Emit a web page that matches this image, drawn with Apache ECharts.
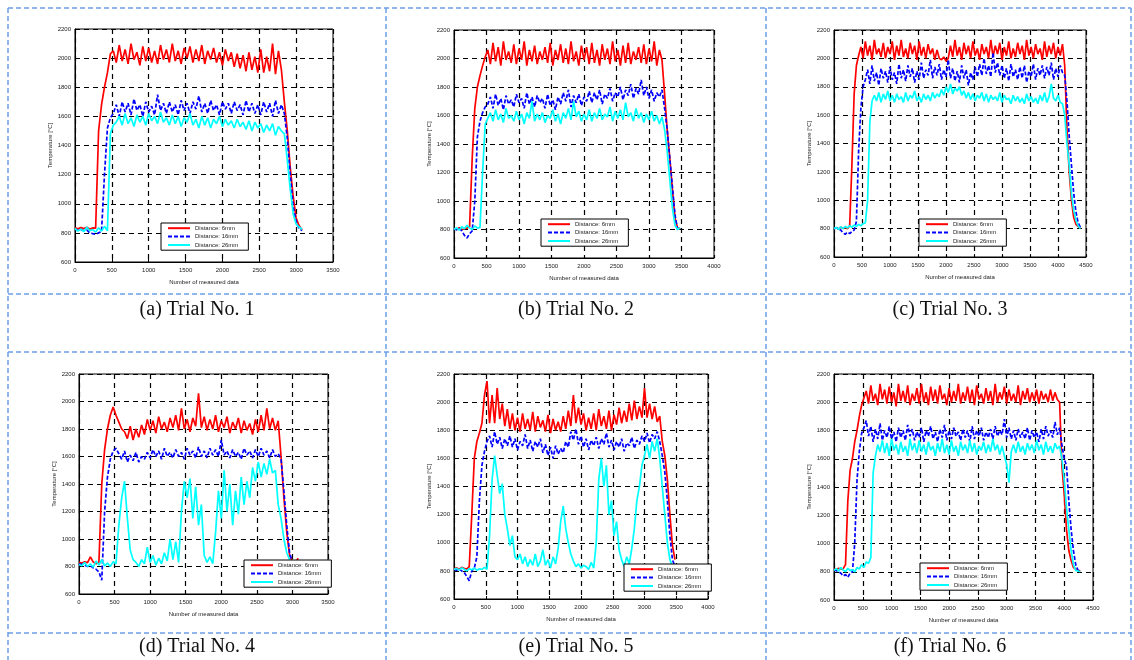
<!DOCTYPE html>
<html>
<head>
<meta charset="utf-8">
<script src="https://cdn.jsdelivr.net/npm/echarts@6/dist/echarts.min.js"></script>
<style>
html,body{margin:0;padding:0;background:#fff;}
#main{width:1134px;height:660px;}
</style>
</head>
<body>
<div id="main"></div>
<script>
// ---- data (sample spacing in "Number of measured data") ----
const STEP = 40;
const SERIES_NAMES = ['Distance: 6mm', 'Distance: 16mm', 'Distance: 26mm'];
const CAPTIONS = ['(a) Trial No. 1', '(b) Trial No. 2', '(c) Trial No. 3', '(d) Trial No. 4', '(e) Trial No. 5', '(f) Trial No. 6'];
const X_MAX = [3500, 4000, 4500, 3500, 4000, 4500];
const X_INTERVAL = 500;
const Y_MIN = 600, Y_MAX = 2200, Y_INTERVAL = 200;
const X_NAME = 'Number of measured data';
const Y_NAME = 'Temperature [°C]';

// Trial 1
const t1_6mm = [835,828,836,830,838,826,834,832,
1500,1680,1800,1900,2030,
2050,1970,2090,1980,2060,1960,2100,1990,2040,1950,
2080,1980,2070,1970,2050,1960,2090,1990,2060,1970,
2100,1980,2050,1960,2070,2000,2080,1970,2060,1980,
2090,1960,2050,1990,2070,1970,2040,1950,2060,1980,
2040,1940,2030,1930,2020,1910,2040,1920,2010,1900,
2060,1900,2010,1910,2100,1890,2050,1920,
1700,1500,1250,1050,900,850,820];
const t1_16mm = [825,818,822,815,820,800,795,790,800,810,
1200,1520,1590,
1620,1680,1600,1700,1630,1690,1610,1720,1640,1680,
1600,1700,1630,1670,1610,1750,1640,1690,1620,1700,
1630,1680,1610,1710,1640,1690,1620,1700,1650,1740,
1630,1690,1620,1710,1640,1680,1610,1700,1650,1690,
1620,1700,1640,1680,1610,1710,1630,1690,1620,1680,
1610,1700,1630,1690,1600,1710,1620,1680,
1620,1450,1200,980,880,830,815];
const t1_26mm = [830,812,826,808,840,815,822,805,835,812,845,815,
1480,1540,
1560,1600,1540,1620,1550,1590,1530,1610,1560,1600,
1540,1620,1570,1600,1550,1630,1560,1590,1540,1610,
1550,1600,1530,1590,1560,1620,1540,1580,1520,1600,
1540,1590,1520,1580,1550,1600,1530,1580,1540,1570,
1520,1580,1530,1560,1510,1570,1500,1560,1520,1550,
1490,1540,1500,1550,1470,1530,1500,
1480,1300,1100,930,860,840,825];

// Trial 2
const t2_6mm = [808,800,812,798,805,810,
820,1300,1650,1800,1880,1950,2010,
2060,1960,2110,1980,2080,1950,2120,1990,2050,1970,
2100,1960,2070,1990,2120,1950,2060,1980,2090,1960,
2050,1990,2080,1970,2110,1950,2060,1990,2100,1970,
2070,1960,2120,1980,2050,1950,2090,1990,2080,1960,
2110,1970,2060,1950,2100,1990,2070,1960,2120,1980,
2060,1950,2090,1970,2110,1960,2050,1990,2080,1970,
2100,1960,2070,1980,2120,1950,2060,1990,
1750,1500,1300,1080,880,810,805];
const t2_16mm = [805,798,810,790,760,740,770,
790,1000,1450,1560,1620,1660,
1680,1730,1650,1750,1670,1720,1640,1740,1680,1710,
1660,1750,1690,1720,1650,1760,1680,1730,1660,1740,
1690,1720,1650,1750,1670,1710,1640,1730,1680,1760,
1700,1780,1660,1740,1690,1750,1670,1730,1700,1770,
1690,1760,1710,1780,1680,1750,1720,1790,1700,1760,
1730,1800,1710,1780,1740,1820,1720,1790,1750,1850,
1740,1800,1720,1780,1700,1760,1730,1780,
1650,1500,1300,1100,900,800,810];
const t2_26mm = [800,812,795,820,805,830,810,800,825,810,815,
1200,1540,
1580,1620,1560,1640,1570,1610,1550,1650,1580,1600,
1560,1630,1570,1610,1540,1620,1580,1700,1560,1610,
1570,1620,1550,1600,1580,1640,1560,1610,1540,1620,
1580,1650,1570,1700,1590,1630,1560,1610,1570,1640,
1560,1620,1580,1650,1570,1610,1590,1660,1560,1630,
1580,1640,1570,1690,1590,1620,1560,1650,1580,1620,
1550,1610,1570,1630,1560,1600,1540,1590,
1500,1350,1150,950,830,800,810];

// Trial 3
const t3_6mm = [800,806,798,810,802,808,800,
820,1250,1750,1950,2020,
2080,2000,2120,2020,2090,1990,2130,2030,2070,2010,
2110,2000,2080,2030,2120,1990,2090,2020,2130,2010,
2070,2000,2110,2030,2090,1990,2120,2020,2080,2000,
2100,2030,2070,1990,2060,2000,1990,2010,1980,2000,
2090,2010,2130,2020,2080,1990,2110,2030,2090,2000,
2120,2020,2070,1990,2100,2030,2080,2000,2130,2010,
2090,2030,2110,1990,2080,2020,2120,2000,2070,2010,
2110,2030,2090,1990,2130,2020,2080,2000,2100,2030,
2070,1990,2120,2010,2090,2030,2110,2000,2080,2020,
2100,
1950,1500,1200,1000,880,830,815,805];
const t3_16mm = [800,806,798,790,770,760,775,765,780,790,850,
1350,1650,1800,
1850,1920,1820,1950,1840,1900,1810,1930,1860,1910,
1830,1940,1850,1900,1820,1960,1860,1920,1840,1950,
1870,1930,1830,1910,1850,1970,1860,1920,1880,1990,
1860,1940,1880,1960,1850,1920,1870,1990,1860,1930,
1840,1910,1830,1950,1860,1920,1810,1900,1850,1940,
1870,1960,1880,2000,1890,1950,1870,2040,1900,1970,
1880,1950,1860,1930,1840,1960,1870,1920,1850,1940,
1860,1950,1830,1910,1870,1960,1850,1930,1880,1950,
1860,1940,1880,1970,1850,1930,1870,1950,1900,
1880,1700,1450,1250,1050,920,840,810];
const t3_26mm = [800,808,795,812,800,815,805,820,810,825,815,830,820,835,840,
1000,1550,1700,
1740,1700,1760,1690,1750,1710,1770,1700,1740,1690,
1750,1710,1730,1690,1760,1700,1740,1720,1770,1700,
1730,1690,1750,1710,1740,1700,1760,1720,1750,1730,
1780,1740,1800,1760,1820,1750,1790,1770,1800,1740,
1770,1720,1760,1710,1750,1700,1740,1720,1760,1700,
1750,1690,1740,1710,1730,1700,1760,1690,1740,1710,
1720,1680,1740,1700,1730,1690,1720,1680,1750,1700,
1730,1690,1720,1680,1740,1700,1760,1690,1730,1820,
1720,1700,1740,1690,
1680,1600,1400,1250,1050,930,860,820,800];

// Trial 4
const t4_6mm = [830,825,835,828,870,832,820,830,
1400,1650,1800,1900,1960,1900,1850,1800,
1780,1730,1820,1720,1800,1740,1830,1760,1870,1790,
1860,1770,1890,1800,1850,1780,1880,1810,1900,1790,
1950,1800,1870,1780,1880,1820,2060,1810,1890,1790,
1870,1800,1900,1780,1860,1810,1890,1770,1850,1800,
1880,1770,1860,1790,1840,1760,1870,1780,1900,1790,
1950,1800,1880,1790,1860,
1600,1300,1050,880,840,820,860];
const t4_16mm = [820,815,810,800,805,790,780,760,700,
1200,1450,1580,1640,1660,
1620,1580,1640,1560,1610,1570,1630,1560,1600,1580,
1630,1590,1650,1600,1640,1580,1660,1600,1630,1590,
1650,1600,1630,1580,1660,1610,1640,1590,1670,1600,
1640,1590,1660,1610,1650,1600,1720,1610,1640,1590,
1650,1600,1630,1580,1660,1610,1640,1590,1650,1600,
1660,1610,1640,1590,1650,1600,1620,
1580,1350,1100,900,830,815,810];
const t4_26mm = [815,805,830,800,820,795,840,810,850,805,
825,800,835,820,1100,1300,1420,1150,920,850,
830,800,850,820,940,830,880,810,860,820,
900,840,1000,850,980,830,1200,1420,1300,1440,
1150,1380,1100,1250,880,830,870,820,1050,1350,
1150,1500,1200,1400,1100,1350,1180,1450,1250,1420,
1300,1520,1420,1560,1450,1550,1470,1580,1480,1500,
1250,1150,1000,900,850,830,820,815];

// Trial 5
const t5_6mm = [815,822,810,825,818,812,830,
1200,1600,1720,1780,1850,2050,2150,1850,
2050,1850,2100,1880,1990,1830,1950,1810,1920,1800,
1890,1790,1920,1810,1880,1800,1930,1790,1900,1820,
1870,1790,1910,1780,1880,1800,1860,1790,1900,1810,
1940,1830,2050,1850,1960,1840,1920,1800,1890,1810,
1920,1800,1950,1830,1900,1810,1940,1800,1910,1840,
1960,1850,1940,1860,1990,1870,2010,1880,1970,1890,
2100,1890,1990,1880,1970,1860,1900,
1720,1620,1450,1200,980,880];
const t5_16mm = [810,805,815,800,790,760,730,
800,820,900,1300,1550,1650,
1720,1760,1680,1790,1700,1750,1670,1740,1690,1760,
1680,1740,1660,1720,1690,1770,1670,1730,1650,1720,
1680,1740,1640,1700,1620,1680,1600,1690,1630,1670,
1640,1720,1680,1790,1730,1810,1700,1760,1680,1740,
1660,1730,1690,1750,1670,1740,1700,1780,1680,1730,
1660,1720,1680,1740,1650,1710,1690,1750,1670,1730,
1700,1760,1720,1780,1710,1770,1740,1790,
1720,1620,1500,1300,1050,880,830];
const t5_26mm = [810,818,805,822,812,800,815,808,820,805,
815,810,825,812,1050,1450,1620,1480,1350,1420,
1200,1100,980,1050,900,880,920,850,900,830,
880,840,920,830,870,950,840,880,820,900,
850,960,1150,1260,1100,1000,920,870,830,850,
820,840,830,810,860,820,1000,1450,1600,1400,
1550,1200,1300,1050,1150,950,880,830,900,850,
960,1100,1300,1400,1550,1620,1700,1600,1720,1650,
1740,1600,1400,1200,1000,880,830,820];

// Trial 6
const t6_6mm = [820,815,825,818,822,
850,1300,1520,1600,1720,1800,1900,1980,2030,
2080,1990,2120,2010,2060,1980,2130,2020,2090,1990,
2110,2000,2070,1970,2130,2010,2080,2000,2120,1980,
2060,2010,2100,1990,2130,2000,2070,1980,2110,2010,
2090,1990,2120,2020,2060,1980,2100,2000,2080,2010,
2130,1990,2070,2010,2110,2000,2090,1980,2120,2020,
2060,1990,2100,2010,2080,1980,2130,2000,2070,2020,
2110,1990,2090,2010,2060,2000,2120,1980,2080,2020,
2100,2000,2070,2010,2090,1990,2080,2020,2060,2000,
2090,2010,2070,2020,2000,
1550,1350,1100,950,880,830,820,810,805];
const t6_16mm = [815,808,800,790,770,780,760,790,800,
1000,1450,1650,1780,1820,
1870,1760,1830,1720,1810,1740,1850,1730,1800,1750,
1830,1740,1790,1720,1820,1750,1800,1730,1840,1760,
1810,1730,1790,1750,1820,1720,1800,1760,1830,1740,
1790,1720,1810,1750,1840,1730,1800,1740,1820,1760,
1790,1730,1810,1750,1800,1720,1830,1740,1800,1760,
1820,1730,1790,1750,1810,1740,1830,1760,1800,1770,
1880,1750,1820,1740,1800,1730,1810,1750,1790,1740,
1820,1730,1800,1750,1790,1720,1810,1740,1830,1760,
1800,1750,1860,1770,1820,
1700,1600,1550,1300,1100,950,850,810,805];
const t6_26mm = [810,822,805,830,812,800,825,808,815,800,830,820,
850,830,870,860,900,1500,1620,
1700,1650,1730,1640,1710,1620,1740,1660,1700,1630,
1720,1650,1690,1620,1740,1660,1710,1640,1730,1650,
1700,1630,1720,1660,1690,1620,1710,1650,1740,1640,
1700,1630,1730,1650,1690,1620,1720,1660,1700,1640,
1730,1650,1710,1630,1690,1660,1720,1640,1700,1650,
1740,1660,1700,1630,1690,1620,1560,1430,1650,1700,
1640,1720,1650,1690,1630,1710,1660,1700,1640,1730,
1660,1700,1630,1720,1650,1690,1640,1710,1670,1690,
1600,1450,1250,1100,950,850,810,805,800];

const TRIALS = [
  [t1_6mm, t1_16mm, t1_26mm],
  [t2_6mm, t2_16mm, t2_26mm],
  [t3_6mm, t3_16mm, t3_26mm],
  [t4_6mm, t4_16mm, t4_26mm],
  [t5_6mm, t5_16mm, t5_26mm],
  [t6_6mm, t6_16mm, t6_26mm]
];

// ---- layout / style ----
const GRIDS = [
  {left: 75,  top: 29,  width: 258, height: 233},
  {left: 454, top: 30,  width: 260, height: 228},
  {left: 834, top: 30,  width: 252, height: 227},
  {left: 79,  top: 374, width: 249, height: 220},
  {left: 454, top: 374, width: 254, height: 225},
  {left: 834, top: 374, width: 259, height: 226}
];
const LEGEND_POS = [
  {left: 161, top: 223}, {left: 541, top: 219}, {left: 919, top: 219},
  {left: 244, top: 560}, {left: 624, top: 564}, {left: 920, top: 563}
];
const COLORS = ['#ff0000', '#0000ff', '#00ffff'];
const LINE_TYPES = ['solid', [4, 2], 'solid'];
const CAPTION_POS = [[197, 310], [576, 310], [950, 310], [197, 647], [576, 647], [950, 647]];

const chart = echarts.init(document.getElementById('main'), null, {renderer: 'canvas'});

const plain = v => String(v);
const grid = [], xAxis = [], yAxis = [], series = [], legend = [];
GRIDS.forEach((g, i) => {
  grid.push(Object.assign({show: true, borderColor: '#000', borderWidth: 1, backgroundColor: '#fff', containLabel: false}, g));
  const labelStyle = {fontSize: 6, color: '#222', fontFamily: 'Liberation Sans', formatter: plain};
  const split = {show: true, lineStyle: {color: '#000', type: [5, 4], width: 1.2}};
  xAxis.push({
    gridIndex: i, type: 'value', min: 0, max: X_MAX[i], interval: X_INTERVAL,
    name: X_NAME, nameLocation: 'middle', nameGap: 17,
    nameTextStyle: {fontSize: 6, color: '#222', fontFamily: 'Liberation Sans'},
    axisLine: {show: true, lineStyle: {color: '#000', width: 1}},
    axisTick: {show: true, inside: true, length: 3, lineStyle: {color: '#000'}},
    axisLabel: Object.assign({margin: 5, showMaxLabel: true, showMinLabel: true}, labelStyle),
    splitLine: split
  });
  yAxis.push({
    gridIndex: i, type: 'value', min: Y_MIN, max: Y_MAX, interval: Y_INTERVAL,
    name: Y_NAME, nameLocation: 'middle', nameGap: 20, nameRotate: 90,
    nameTextStyle: {fontSize: 6, color: '#222', fontFamily: 'Liberation Sans'},
    axisLine: {show: true, lineStyle: {color: '#000', width: 1}},
    axisTick: {show: true, inside: true, length: 3, lineStyle: {color: '#000'}},
    axisLabel: Object.assign({margin: 4, showMaxLabel: true, showMinLabel: true}, labelStyle),
    splitLine: split
  });
  TRIALS[i].forEach((vals, k) => {
    series.push({
      type: 'line', name: SERIES_NAMES[k], xAxisIndex: i, yAxisIndex: i,
      data: vals.map((v, j) => [j * STEP, v]),
      symbol: 'none', showSymbol: false, smooth: false,
      lineStyle: {color: COLORS[k], width: 1.7, type: LINE_TYPES[k]},
      itemStyle: {color: COLORS[k]},
      z: 2 + k
    });
  });
  legend.push(Object.assign({
    orient: 'vertical', data: SERIES_NAMES, selectedMode: false,
    backgroundColor: '#fff', borderColor: '#000', borderWidth: 1,
    padding: [2, 10, 2, 6], itemGap: 2, itemWidth: 22, itemHeight: 8,
    lineStyle: {width: 2},
    itemStyle: {opacity: 0},
    textStyle: {fontSize: 6, color: '#222', fontFamily: 'Liberation Sans'},
    z: 20
  }, LEGEND_POS[i]));
});

// table borders (dashed, light blue)
const BORDER = {stroke: '#6b9ee8', lineWidth: 1.5, lineDash: [5, 3]};
const H_LINES = [8, 294, 352, 633];
const V_LINES = [8, 386, 766, 1131];
const graphic = [];
H_LINES.forEach(y => graphic.push({type: 'line', shape: {x1: 8, y1: y, x2: 1131, y2: y}, style: BORDER, silent: true, z: 100}));
V_LINES.forEach(x => graphic.push({type: 'line', shape: {x1: x, y1: 8, x2: x, y2: 660}, style: BORDER, silent: true, z: 100}));
CAPTIONS.forEach((t, i) => graphic.push({
  type: 'text', x: CAPTION_POS[i][0], y: CAPTION_POS[i][1], silent: true,
  style: {text: t, font: '20px "Liberation Serif"', fill: '#111', align: 'center', verticalAlign: 'middle'}
}));

chart.setOption({
  animation: false,
  backgroundColor: '#fff',
  textStyle: {fontFamily: 'Liberation Sans'},
  grid, xAxis, yAxis, series, legend, graphic
});
</script>
</body>
</html>
